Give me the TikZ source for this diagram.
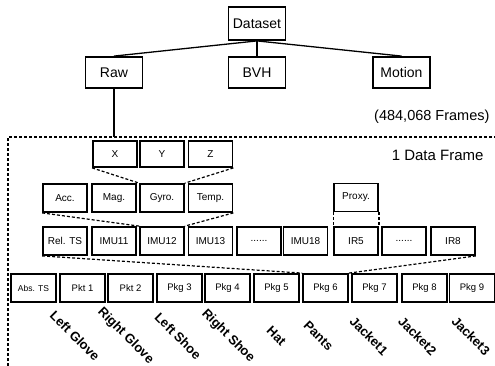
\documentclass[tikz,border=0pt]{standalone}
\usepackage{fontspec}
\setmainfont{Liberation Sans}
\usetikzlibrary{positioning}

\newcommand{\gapdots}{......}

\tikzset{
	blk/.style = {draw, black, line width = 1.8pt, minimum width = 44, minimum height = 28, inner sep = 1pt, font = \fontsize{10}{12}\selectfont},
	topblk/.style = {blk, minimum width = 57, minimum height = 31, font = \fontsize{14}{16}\selectfont},
	pktblk/.style = {blk, minimum width = 45, font = \fontsize{9.5}{11}\selectfont},
	tie/.style = {black, line width = 1.3pt},
	dots/.style = {black, line width = 1.2pt, dash pattern = on 3pt off 2pt},
	part/.style = {rotate = -45, inner sep = 0pt, font = \fontsize{13}{15}\selectfont\bfseries}
}

\begin{document}
\begin{tikzpicture}[x = 1pt, y = -1pt]
	\useasboundingbox (0, 0) rectangle (495, 366);
	% dataset tree
	\node[topblk, minimum height = 33] (dataset) at (257, 23.5) {Dataset};
	\node[topblk] (raw) at (114, 72.5) {Raw};
	\node[topblk] (bvh) at (257, 72.5) {BVH};
	\node[topblk] (motion) at (401.5, 72.5) {Motion};
	\draw[tie] (dataset.south)--(raw.north);
	\draw[tie] (dataset.south)--(bvh.north);
	\draw[tie] (dataset.south)--(motion.north);
	\node[anchor = east, font = \fontsize{14.5}{17}\selectfont] (frames) at (493, 117) {(484,068 Frames)};
	% one frame
	\draw[dots] (8, 366)--(8, 137)--(495, 137);
	\coordinate (frametop) at (raw.south |- 0, 137);
	\draw[tie] (raw.south)--(frametop);
	\node[anchor = east, font = \fontsize{15}{18}\selectfont] (oneframe) at (487, 155) {1 Data Frame};
	% axes
	\node[blk, minimum height = 26] (x) at (115, 154) {X};
	\node[blk, minimum height = 26] (y) at (162, 154) {Y};
	\node[blk, minimum height = 26] (z) at (210.5, 154) {Z};
	% sensors
	\node[blk] (acc) at (65, 198) {Acc.};
	\node[blk] (mag) at (114, 198) {Mag.};
	\node[blk] (gyro) at (162, 198) {Gyro.};
	\node[blk] (temp) at (210.5, 198) {Temp.};
	\node[blk] (proxy) at (356, 197.5) {Proxy.};
	% imu and ir
	\foreach \nm/\txt/\cx in {relts/Rel. TS/65, imu11/IMU11/114, imu12/IMU12/162, imu13/IMU13/210.5, dotsa/\gapdots/259, imu18/IMU18/305.5, ir5/IR5/356, dotsb/\gapdots/404, ir8/IR8/453}
		\node[blk] (\nm) at (\cx, 241) {\txt};
	% packets
	\node[pktblk, font = \fontsize{8.5}{10}\selectfont] (absts) at (33.5, 288) {Abs. TS};
	\foreach \nm/\txt/\cx in {pkt1/Pkt 1/82.5, pkt2/Pkt 2/130.5, pkg3/Pkg 3/179.5, pkg4/Pkg 4/227.5, pkg5/Pkg 5/276.5, pkg6/Pkg 6/325.5, pkg7/Pkg 7/374.5, pkg8/Pkg 8/424.5, pkg9/Pkg 9/472}
		\node[pktblk] (\nm) at (\cx, 288) {\txt};
	% zoom lines
	\draw[dots] (x.south west)--(gyro.north west);
	\draw[dots] (z.south east)--(gyro.north east);
	\draw[dots] (acc.south west)--(imu12.north west);
	\draw[dots] (temp.south east)--(imu12.north east);
	\draw[dots] (proxy.south west)--(ir5.north west);
	\draw[dots] (proxy.south east)--(ir5.north east);
	\draw[dots] (relts.south west)--(pkg6.north west);
	\draw[dots] (ir8.south east)--(pkg6.north east);
	% body parts
	\foreach \nm/\txt/\cx in {lglove/Left Glove/75, rglove/Right Glove/125.5, lshoe/Left Shoe/178, rshoe/Right Shoe/228, hat/Hat/276.5, pants/Pants/318.5, jacketa/Jacket1/369, jacketb/Jacket2/417.5, jacketc/Jacket3/471}
		\node[part] (\nm) at (\cx, 336) {\txt};
\end{tikzpicture}
\end{document}
